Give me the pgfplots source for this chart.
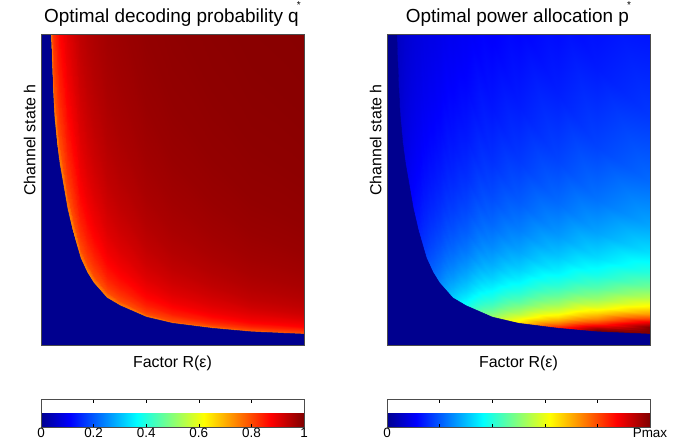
\documentclass[border=0pt]{standalone}
\usepackage{fontspec}
\setmainfont{Liberation Sans}
\usepackage{pgfplots}
\usepackage{pgfplotstable}
\pgfplotsset{compat=1.18}
\usetikzlibrary{calc}

\definecolor{jetlow}{rgb}{0,0,0.5625}

% grid follows the boundary curve: rows are scaled copies of it
% columns: u = R, v = h, q = decoding probability, p = power / Pmax
\pgfplotstableread{
u v q p
0.037 1.0 0.74 0.0477
0.045 0.822 0.74 0.0580
0.05 0.74 0.74 0.0644
0.06 0.65 0.74 0.0753
0.07 0.586 0.74 0.0857
0.08 0.5375 0.74 0.0956
0.1 0.44 0.74 0.1181
0.12 0.367 0.74 0.1416
0.15 0.28 0.74 0.1815
0.175 0.234 0.74 0.2146
0.2 0.2 0.74 0.2480
0.25 0.152 0.74 0.3179
0.3 0.127 0.74 0.3805
0.4 0.09 0.74 0.5219
0.5 0.07 0.74 0.6611
0.65 0.054 0.74 0.8579
0.8 0.0425 0.74 1.0
1.0 0.035 0.74 1.0
0.037 1.12 0.799 0.0451
0.045 0.9206 0.799 0.0548
0.05 0.8288 0.799 0.0609
0.06 0.728 0.799 0.0712
0.07 0.6563 0.799 0.0808
0.08 0.602 0.799 0.0901
0.1 0.4928 0.799 0.1112
0.12 0.411 0.799 0.1333
0.15 0.3136 0.799 0.1711
0.175 0.2621 0.799 0.2024
0.2 0.224 0.799 0.2341
0.25 0.1702 0.799 0.3005
0.3 0.1422 0.799 0.3596
0.4 0.1008 0.799 0.4941
0.5 0.0784 0.799 0.6263
0.65 0.0605 0.799 0.8127
0.8 0.0476 0.799 1.0
1.0 0.0392 0.799 1.0
0.037 1.27 0.823 0.0423
0.045 1.0439 0.823 0.0514
0.05 0.9398 0.823 0.0571
0.06 0.8255 0.823 0.0665
0.07 0.7442 0.823 0.0755
0.08 0.6826 0.823 0.0840
0.1 0.5588 0.823 0.1037
0.12 0.4661 0.823 0.1243
0.15 0.3556 0.823 0.1597
0.175 0.2972 0.823 0.1891
0.2 0.254 0.823 0.2188
0.25 0.193 0.823 0.2813
0.3 0.1613 0.823 0.3367
0.4 0.1143 0.823 0.4632
0.5 0.0889 0.823 0.5878
0.65 0.0686 0.823 0.7627
0.8 0.054 0.823 0.9546
1.0 0.0445 0.823 1.0
0.037 1.45 0.845 0.0393
0.045 1.1919 0.845 0.0478
0.05 1.073 0.845 0.0531
0.06 0.9425 0.845 0.0618
0.07 0.8497 0.845 0.0701
0.08 0.7794 0.845 0.0779
0.1 0.638 0.845 0.0960
0.12 0.5322 0.845 0.1151
0.15 0.406 0.845 0.1481
0.175 0.3393 0.845 0.1754
0.2 0.29 0.845 0.2031
0.25 0.2204 0.845 0.2615
0.3 0.1842 0.845 0.3129
0.4 0.1305 0.845 0.4312
0.5 0.1015 0.845 0.5475
0.65 0.0783 0.845 0.7105
0.8 0.0616 0.845 0.8901
1.0 0.0508 0.845 1.0
0.037 1.7 0.868 0.0359
0.045 1.3974 0.868 0.0436
0.05 1.258 0.868 0.0484
0.06 1.105 0.868 0.0563
0.07 0.9962 0.868 0.0638
0.08 0.9138 0.868 0.0708
0.1 0.748 0.868 0.0872
0.12 0.6239 0.868 0.1046
0.15 0.476 0.868 0.1346
0.175 0.3978 0.868 0.1596
0.2 0.34 0.868 0.1849
0.25 0.2584 0.868 0.2383
0.3 0.2159 0.868 0.2853
0.4 0.153 0.868 0.3937
0.5 0.119 0.868 0.5004
0.65 0.0918 0.868 0.6493
0.8 0.0723 0.868 0.8141
1.0 0.0595 0.868 1.0
0.037 2.0 0.8875 0.0325
0.045 1.644 0.8875 0.0396
0.05 1.48 0.8875 0.0439
0.06 1.3 0.8875 0.0510
0.07 1.172 0.8875 0.0577
0.08 1.075 0.8875 0.0639
0.1 0.88 0.8875 0.0788
0.12 0.734 0.8875 0.0944
0.15 0.56 0.8875 0.1217
0.175 0.468 0.8875 0.1443
0.2 0.4 0.8875 0.1673
0.25 0.304 0.8875 0.2160
0.3 0.254 0.8875 0.2585
0.4 0.18 0.8875 0.3572
0.5 0.14 0.8875 0.4543
0.65 0.108 0.8875 0.5894
0.8 0.085 0.8875 0.7397
1.0 0.07 0.8875 0.9085
0.037 2.4 0.906 0.0290
0.045 1.9728 0.906 0.0353
0.05 1.776 0.906 0.0392
0.06 1.56 0.906 0.0454
0.07 1.4064 0.906 0.0513
0.08 1.29 0.906 0.0568
0.1 1.056 0.906 0.0699
0.12 0.8808 0.906 0.0838
0.15 0.672 0.906 0.1082
0.175 0.5616 0.906 0.1284
0.2 0.48 0.906 0.1489
0.25 0.3648 0.906 0.1924
0.3 0.3048 0.906 0.2303
0.4 0.216 0.906 0.3188
0.5 0.168 0.906 0.4057
0.65 0.1296 0.906 0.5263
0.8 0.102 0.906 0.6611
1.0 0.084 0.906 0.8113
0.037 2.9 0.922 0.0256
0.045 2.3838 0.922 0.0312
0.05 2.146 0.922 0.0346
0.06 1.885 0.922 0.0401
0.07 1.6994 0.922 0.0452
0.08 1.5588 0.922 0.0500
0.1 1.276 0.922 0.0616
0.12 1.0643 0.922 0.0738
0.15 0.812 0.922 0.0954
0.175 0.6786 0.922 0.1132
0.2 0.58 0.922 0.1314
0.25 0.4408 0.922 0.1700
0.3 0.3683 0.922 0.2035
0.4 0.261 0.922 0.2820
0.5 0.203 0.922 0.3591
0.65 0.1566 0.922 0.4658
0.8 0.1233 0.922 0.5855
1.0 0.1015 0.922 0.7181
0.037 3.5 0.936 0.0226
0.045 2.877 0.936 0.0275
0.05 2.59 0.936 0.0305
0.06 2.275 0.936 0.0353
0.07 2.051 0.936 0.0398
0.08 1.8813 0.936 0.0440
0.1 1.54 0.936 0.0541
0.12 1.2845 0.936 0.0648
0.15 0.98 0.936 0.0838
0.175 0.819 0.936 0.0995
0.2 0.7 0.936 0.1156
0.25 0.532 0.936 0.1497
0.3 0.4445 0.936 0.1792
0.4 0.315 0.936 0.2486
0.5 0.245 0.936 0.3167
0.65 0.189 0.936 0.4108
0.8 0.1488 0.936 0.5168
1.0 0.1225 0.936 0.6334
0.037 4.3 0.948 0.0196
0.045 3.5346 0.948 0.0238
0.05 3.182 0.948 0.0264
0.06 2.795 0.948 0.0306
0.07 2.5198 0.948 0.0344
0.08 2.3113 0.948 0.0380
0.1 1.892 0.948 0.0468
0.12 1.5781 0.948 0.0561
0.15 1.204 0.948 0.0725
0.175 1.0062 0.948 0.0862
0.2 0.86 0.948 0.1001
0.25 0.6536 0.948 0.1298
0.3 0.5461 0.948 0.1553
0.4 0.387 0.948 0.2157
0.5 0.301 0.948 0.2750
0.65 0.2322 0.948 0.3567
0.8 0.1828 0.948 0.4489
1.0 0.1505 0.948 0.5499
0.037 5.3 0.958 0.0169
0.045 4.3566 0.958 0.0205
0.05 3.922 0.958 0.0228
0.06 3.445 0.958 0.0263
0.07 3.1058 0.958 0.0296
0.08 2.8488 0.958 0.0327
0.1 2.332 0.958 0.0402
0.12 1.9451 0.958 0.0482
0.15 1.484 0.958 0.0624
0.175 1.2402 0.958 0.0741
0.2 1.06 0.958 0.0861
0.25 0.8056 0.958 0.1118
0.3 0.6731 0.958 0.1338
0.4 0.477 0.958 0.1859
0.5 0.371 0.958 0.2371
0.65 0.2862 0.958 0.3076
0.8 0.2253 0.958 0.3874
1.0 0.1855 0.958 0.4743
0.037 6.6 0.966 0.0144
0.045 5.4252 0.966 0.0175
0.05 4.884 0.966 0.0194
0.06 4.29 0.966 0.0224
0.07 3.8676 0.966 0.0252
0.08 3.5475 0.966 0.0278
0.1 2.904 0.966 0.0341
0.12 2.4222 0.966 0.0409
0.15 1.848 0.966 0.0530
0.175 1.5444 0.966 0.0630
0.2 1.32 0.966 0.0733
0.25 1.0032 0.966 0.0952
0.3 0.8382 0.966 0.1139
0.4 0.594 0.966 0.1585
0.5 0.462 0.966 0.2022
0.65 0.3564 0.966 0.2623
0.8 0.2805 0.966 0.3305
1.0 0.231 0.966 0.4045
0.037 8.5 0.974 0.0119
0.045 6.987 0.974 0.0145
0.05 6.29 0.974 0.0161
0.06 5.525 0.974 0.0185
0.07 4.981 0.974 0.0208
0.08 4.5688 0.974 0.0229
0.1 3.74 0.974 0.0282
0.12 3.1195 0.974 0.0338
0.15 2.38 0.974 0.0438
0.175 1.989 0.974 0.0521
0.2 1.7 0.974 0.0606
0.25 1.292 0.974 0.0788
0.3 1.0795 0.974 0.0943
0.4 0.765 0.974 0.1313
0.5 0.595 0.974 0.1676
0.65 0.459 0.974 0.2174
0.8 0.3613 0.974 0.2741
1.0 0.2975 0.974 0.3352
0.037 11 0.980 0.0098
0.045 9.042 0.980 0.0119
0.05 8.14 0.980 0.0132
0.06 7.15 0.980 0.0152
0.07 6.446 0.980 0.0171
0.08 5.9125 0.980 0.0188
0.1 4.84 0.980 0.0231
0.12 4.037 0.980 0.0277
0.15 3.08 0.980 0.0360
0.175 2.574 0.980 0.0428
0.2 2.2 0.980 0.0498
0.25 1.672 0.980 0.0648
0.3 1.397 0.980 0.0775
0.4 0.99 0.980 0.1080
0.5 0.77 0.980 0.1379
0.65 0.594 0.980 0.1789
0.8 0.4675 0.980 0.2256
1.0 0.385 0.980 0.2759
0.037 15 0.985 0.0077
0.045 12.33 0.985 0.0094
0.05 11.1 0.985 0.0104
0.06 9.75 0.985 0.0120
0.07 8.79 0.985 0.0134
0.08 8.0625 0.985 0.0148
0.1 6.6 0.985 0.0181
0.12 5.505 0.985 0.0217
0.15 4.2 0.985 0.0282
0.175 3.51 0.985 0.0336
0.2 3.0 0.985 0.0391
0.25 2.28 0.985 0.0509
0.3 1.905 0.985 0.0609
0.4 1.35 0.985 0.0850
0.5 1.05 0.985 0.1086
0.65 0.81 0.985 0.1408
0.8 0.6375 0.985 0.1777
1.0 0.525 0.985 0.2172
0.037 21 0.989 0.0059
0.045 17.262 0.989 0.0072
0.05 15.54 0.989 0.0080
0.06 13.65 0.989 0.0092
0.07 12.306 0.989 0.0103
0.08 11.2875 0.989 0.0113
0.1 9.24 0.989 0.0139
0.12 7.707 0.989 0.0166
0.15 5.88 0.989 0.0216
0.175 4.914 0.989 0.0257
0.2 4.2 0.989 0.0299
0.25 3.192 0.989 0.0390
0.3 2.667 0.989 0.0467
0.4 1.89 0.989 0.0651
0.5 1.47 0.989 0.0832
0.65 1.134 0.989 0.1079
0.8 0.8925 0.989 0.1363
1.0 0.735 0.989 0.1665
0.037 29 0.992 0.0046
0.045 23.838 0.992 0.0055
0.05 21.46 0.992 0.0061
0.06 18.85 0.992 0.0071
0.07 16.994 0.992 0.0079
0.08 15.5875 0.992 0.0087
0.1 12.76 0.992 0.0107
0.12 10.643 0.992 0.0128
0.15 8.12 0.992 0.0166
0.175 6.786 0.992 0.0198
0.2 5.8 0.992 0.0231
0.25 4.408 0.992 0.0301
0.3 3.683 0.992 0.0360
0.4 2.61 0.992 0.0503
0.5 2.03 0.992 0.0643
0.65 1.566 0.992 0.0834
0.8 1.2325 0.992 0.1053
1.0 1.015 0.992 0.1286
}\hdata

% region where nothing is sent (value 0)
\pgfplotstableread{
u v
0 0
0 1
0.037 1.0
0.045 0.822
0.05 0.74
0.06 0.65
0.07 0.586
0.08 0.5375
0.1 0.44
0.12 0.367
0.15 0.28
0.175 0.234
0.2 0.2
0.25 0.152
0.3 0.127
0.4 0.09
0.5 0.07
0.65 0.054
0.8 0.0425
1.0 0.035
1.0 0
}\zerodata

\pgfplotsset{
  colormap={mjet}{rgb(0cm)=(0,0,0.5625) rgb(7cm)=(0,0,1) rgb(23cm)=(0,1,1) rgb(39cm)=(1,1,0) rgb(55cm)=(1,0,0) rgb(63cm)=(0.5,0,0)},
  hmap/.style={
    scale only axis, width=263bp, height=310bp,
    xmin=0, xmax=1, ymin=0, ymax=1,
    xtick=\empty, ytick=\empty,
    axis on top,
    axis line style={black!70, line width=1pt},
    colormap name=mjet,
    point meta min=0, point meta max=1,
    every axis title/.style={at={(rel axis cs:0.5,1)}, anchor=base, yshift=12bp, font=\fontsize{19}{22}\selectfont},
    every axis x label/.style={at={(rel axis cs:0.5,0)}, anchor=base, yshift=-22.7bp, font=\fontsize{16}{19}\selectfont},
    every axis y label/.style={at={(rel axis cs:-0.021,0.661)}, rotate=90, anchor=base, font=\fontsize{16}{19}\selectfont},
    xlabel={Factor R(ε)},
    ylabel={Channel state h},
    colorbar horizontal,
    colorbar style={
      at={($(parent axis.south west)+(0,-46bp)$)}, anchor=north west,
      scale only axis, width=263bp, height=28bp,
      xtick={0,0.2,0.4,0.6,0.8,1},
      xtick pos=both, xticklabel pos=lower,
      tick align=inside, major tick length=3.5bp,
      xtick style={black, line width=0.6pt},
      xticklabel style={anchor=base, yshift=-10bp, font=\fontsize{13.5}{15}\selectfont},
      axis line style={black!70, line width=0.8pt},
    },
  },
}

\begin{document}
\begin{tikzpicture}
\begin{axis}[hmap, at={(41bp,100bp)}, anchor=south west,
  axis background/.style={fill={rgb,1:red,0.55;green,0;blue,0}},
  title={Optimal decoding probability q\kern-0.1em\raisebox{0.78em}{\fontsize{10}{10}\selectfont *}},
  colorbar style={xticklabels={0,0.2,0.4,0.6,0.8,1}}]
\addplot[surf, shader=interp, mesh/cols=18, point meta=\thisrow{q}] table[x=u, y=v] {\hdata};
\addplot[fill=jetlow, draw=jetlow, line width=0.5pt] table[x=u, y=v] {\zerodata} -- cycle;
\end{axis}

\begin{axis}[hmap, at={(387bp,100bp)}, anchor=south west,
  axis background/.style={fill={rgb,1:red,0;green,0.05;blue,0.95}},
  title={Optimal power allocation p\kern-0.1em\raisebox{0.78em}{\fontsize{10}{10}\selectfont *}},
  colorbar style={xticklabels={0,,,,,Pmax}}]
\addplot[surf, shader=interp, mesh/cols=18, point meta=\thisrow{p}] table[x=u, y=v] {\hdata};
\addplot[fill=jetlow, draw=jetlow, line width=0.5pt] table[x=u, y=v] {\zerodata} -- cycle;
\end{axis}

\pgfresetboundingbox
\path[use as bounding box] (0,0) rectangle (692bp,445bp);
\end{tikzpicture}
\end{document}
